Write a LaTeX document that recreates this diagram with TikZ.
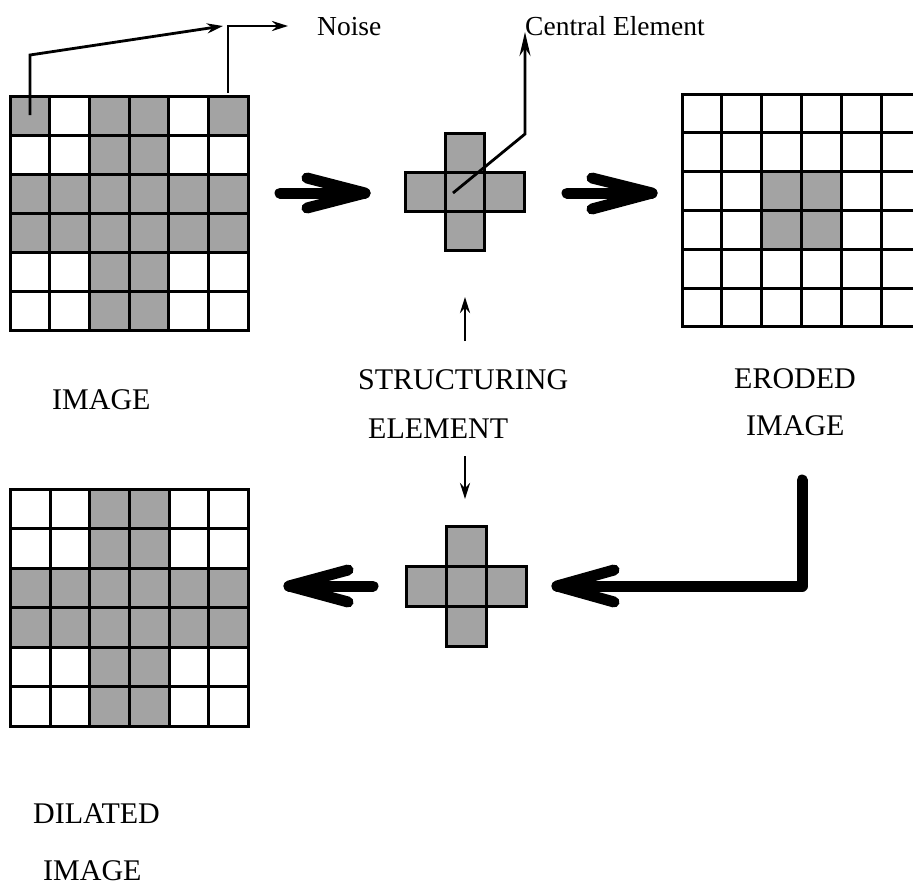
\documentclass[tikz,border=0pt]{standalone}
\usepackage{fontspec}
\setmainfont{Liberation Serif}
\usetikzlibrary{arrows.meta}
\definecolor{shade}{gray}{0.64}
\tikzset{
  cellon/.style={fill=shade},
  cellline/.style={draw=black, line width=3pt},
  fatline/.style={line width=11pt, line cap=round, line join=round},
  thinarrow/.style={line width=2.8pt, -{Stealth[length=16pt,width=10pt]}},
  longhead/.style={-{Stealth[length=24pt,width=11pt]}},
  biglabel/.style={font=\fontsize{30}{36}\selectfont, inner sep=0pt, anchor=base west},
  smalllabel/.style={font=\fontsize{27.5}{32}\selectfont, inner sep=0pt, anchor=base west},
}
% #1 x0, #2 y0, #3 cell w, #4 cell h, #5 list of shaded cells r/c
\newcommand\mygrid[5]{%
  \foreach \r/\c in {#5} {\fill[cellon] ({#1+\c*#3},{#2+\r*#4}) rectangle ++(#3,#4);}
  \foreach \r in {0,...,5} {\foreach \c in {0,...,5} {\draw[cellline] ({#1+\c*#3},{#2+\r*#4}) rectangle ++(#3,#4);}}
}
% #1 center x, #2 center y, #3 cell w, #4 cell h
\newcommand\mycross[4]{%
  \foreach \dx/\dy in {0/-1,-1/0,0/0,1/0,0/1} {\fill[cellon] ({#1+(\dx-0.5)*#3},{#2+(\dy-0.5)*#4}) rectangle ++(#3,#4);}
  \foreach \dx/\dy in {0/-1,-1/0,0/0,1/0,0/1} {\draw[cellline] ({#1+(\dx-0.5)*#3},{#2+(\dy-0.5)*#4}) rectangle ++(#3,#4);}
}
\begin{document}
\begin{tikzpicture}[x=1pt,y=-1pt]
\clip (0,0) rectangle (913,886);
\fill[white] (0,0) rectangle (913,886);

% grids
\mygrid{10}{96}{39.7}{39}{0/0,0/2,0/3,0/5,1/2,1/3,2/0,2/1,2/2,2/3,2/4,2/5,3/0,3/1,3/2,3/3,3/4,3/5,4/2,4/3,5/2,5/3}
\mygrid{682}{94}{39.8}{38.8}{2/2,2/3,3/2,3/3}
\mygrid{10.7}{489}{39.6}{39.5}{0/2,0/3,1/2,1/3,2/0,2/1,2/2,2/3,2/4,2/5,3/0,3/1,3/2,3/3,3/4,3/5,4/2,4/3,5/2,5/3}

% structuring elements
\mycross{465}{192}{39.5}{39.3}
\mycross{466}{586}{40}{40}

% labels
\node[smalllabel] (noise) at (317,35) {Noise};
\node[smalllabel] (central) at (525,35) {Central Element};
\node[biglabel] (image) at (52,409) {IMAGE};
\node[biglabel] (struct) at (358,389) {STRUCTURING};
\node[biglabel] (elem) at (368,438) {ELEMENT};
\node[biglabel] (eroded) at (734,388) {ERODED};
\node[biglabel] (eimage) at (746,435) {IMAGE};
\node[biglabel] (dilated) at (33,823) {DILATED};
\node[biglabel] (dimage) at (43,880) {IMAGE};

% noise pointers
\coordinate (na) at (30,115);
\coordinate (nb) at (30,55);
\coordinate (nc) at (223,26);
\coordinate (nd) at (228,93);
\coordinate (ne) at (228,26);
\coordinate (nf) at (288,26);
\draw[thinarrow] (na) -- (nb) -- (nc);
\draw[thinarrow] (nd) -- (ne) -- (nf);

% central element pointer
\coordinate (ca) at (453,193);
\coordinate (cb) at (525,134);
\coordinate (cc) at (525,32);
\draw[thinarrow, longhead] (ca) -- (cb) -- (cc);

% small arrows at structuring element label
\coordinate (ua) at (465,341);
\coordinate (ub) at (465,297);
\coordinate (da) at (465,456);
\coordinate (db) at (465,499);
\draw[thinarrow] (ua) -- (ub);
\draw[thinarrow] (da) -- (db);

% fat arrows
\coordinate (t1a) at (280,193);
\coordinate (t1b) at (365,193);
\draw[fatline] (t1a) -- (t1b);
\draw[fatline] (307,178) -- (t1b) -- (307,208);

\coordinate (t2a) at (567,193);
\coordinate (t2b) at (652,193);
\draw[fatline] (t2a) -- (t2b);
\draw[fatline] (592,178) -- (t2b) -- (592,209);

\coordinate (b1a) at (802,480);
\coordinate (b1c) at (802,586);
\coordinate (b1b) at (557,586);
\draw[fatline] (b1a) -- (b1c) -- (b1b);
\draw[fatline] (614,570) -- (b1b) -- (614,602);

\coordinate (b2a) at (373,586);
\coordinate (b2b) at (289,586);
\draw[fatline] (b2a) -- (b2b);
\draw[fatline] (348,570) -- (b2b) -- (348,602);
\end{tikzpicture}
\end{document}
